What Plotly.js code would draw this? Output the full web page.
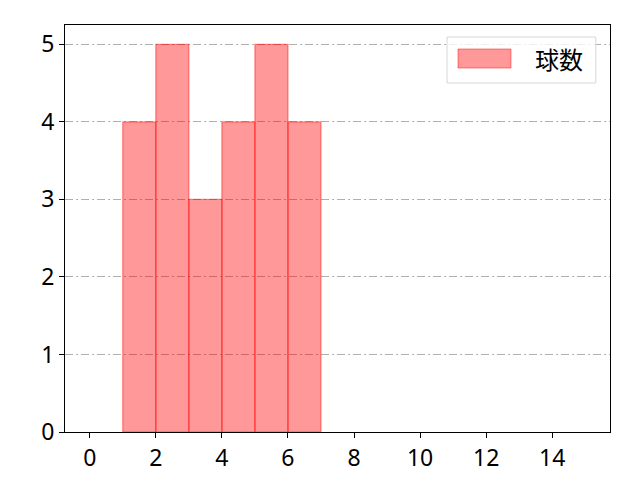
<!DOCTYPE html>
<html>
<head>
<meta charset="utf-8">
<script src="https://cdn.plot.ly/plotly-3.0.1.min.js"></script>
<style>
  html, body { margin: 0; padding: 0; background: #fff; }
  #chart { width: 640px; height: 480px; }
</style>
</head>
<body>
<div id="chart"></div>
<script>
// histogram bins (left edge) and counts
var binLeft = [1, 2, 3, 4, 5, 6];
var binWidth = [1, 1, 1, 1, 1, 1];
var counts = [4, 5, 3, 4, 5, 4];
var seriesName = '球数';
var xTicks = [0, 2, 4, 6, 8, 10, 12, 14];
var yTicks = [0, 1, 2, 3, 4, 5];

var fillCol = 'rgba(255,0,0,0.4)';
var edgeCol = 'rgba(255,0,0,0.45)';

var trace = {
  type: 'bar',
  x: binLeft,
  y: counts,
  width: binWidth,
  offset: 0,
  name: seriesName,
  showlegend: false,
  marker: {
    color: fillCol,
    line: { color: edgeCol, width: 1.2 }
  },
  hoverinfo: 'x+y'
};

var fontFam = '"Noto Sans", "Noto Sans CJK JP", sans-serif';

// legend drawn by hand so the patch can be wide like matplotlib's
var legendShapes = [
  {
    type: 'rect', xref: 'paper', yref: 'paper', layer: 'above',
    x0: 0.701, x1: 0.974, y0: 0.8575, y1: 0.9705,
    fillcolor: 'rgba(255,255,255,0.8)',
    line: { color: '#d6d6d6', width: 1 }
  },
  {
    type: 'rect', xref: 'paper', yref: 'paper', layer: 'above',
    x0: 0.7211, x1: 0.8183, y0: 0.8943, y1: 0.941,
    fillcolor: fillCol,
    line: { color: edgeCol, width: 1 }
  }
];

var layout = {
  width: 640,
  height: 480,
  margin: { l: 65, r: 30, t: 25, b: 48, pad: 0 },
  paper_bgcolor: '#fff',
  plot_bgcolor: '#fff',
  font: { family: fontFam, size: 23, color: '#000' },
  bargap: 0,
  showlegend: false,
  xaxis: {
    range: [-0.75, 15.75],
    tickvals: xTicks,
    ticks: 'outside',
    ticklen: 5,
    tickwidth: 1,
    tickcolor: '#000',
    showgrid: false,
    zeroline: false,
    showline: true,
    mirror: true,
    linecolor: '#000',
    linewidth: 1
  },
  yaxis: {
    range: [0, 5.25],
    tickvals: yTicks,
    ticks: 'outside',
    ticklen: 5,
    tickwidth: 1,
    tickcolor: '#000',
    showgrid: true,
    gridcolor: '#b0b0b0',
    gridwidth: 1,
    griddash: '8px,3px,2px,3px',
    zeroline: false,
    showline: true,
    mirror: true,
    linecolor: '#000',
    linewidth: 1
  },
  shapes: legendShapes,
  annotations: [
    {
      xref: 'paper', yref: 'paper',
      x: 0.8587, y: 0.9177,
      xanchor: 'left', yanchor: 'middle',
      text: seriesName,
      showarrow: false,
      font: { family: '"Noto Sans CJK JP", sans-serif', size: 24, color: '#000' }
    }
  ]
};

Plotly.newPlot('chart', [trace], layout, { displayModeBar: false, staticPlot: true });
</script>
</body>
</html>
